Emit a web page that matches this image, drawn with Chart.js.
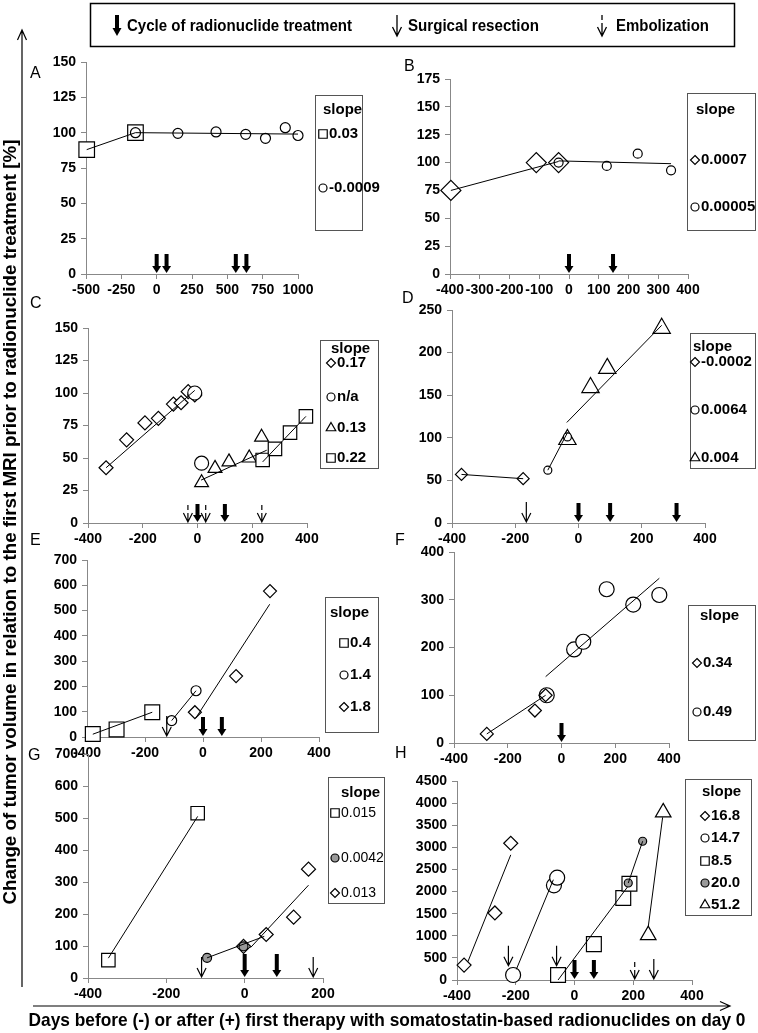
<!DOCTYPE html>
<html>
<head>
<meta charset="utf-8">
<title>Tumor volume change</title>
<script src="https://cdn.jsdelivr.net/npm/chart.js@4.4.1/dist/chart.umd.min.js"></script>
<style>
  html, body { margin: 0; padding: 0; background: #fff; }
  #page { position: relative; width: 758px; height: 1033px; overflow: hidden; }
  #page canvas { position: absolute; left: 0; top: 0; }
  #deco { position: absolute; left: 0; top: 0; }
</style>
</head>
<body>
<div id="page">
  <canvas id="chartA" width="758" height="1033"></canvas>
  <canvas id="chartB" width="758" height="1033"></canvas>
  <canvas id="chartC" width="758" height="1033"></canvas>
  <canvas id="chartD" width="758" height="1033"></canvas>
  <canvas id="chartE" width="758" height="1033"></canvas>
  <canvas id="chartF" width="758" height="1033"></canvas>
  <canvas id="chartG" width="758" height="1033"></canvas>
  <canvas id="chartH" width="758" height="1033"></canvas>
  <svg id="deco" width="758" height="1033" font-family="Arial, 'Liberation Sans', sans-serif">
    <!-- event key -->
    <rect x="90.5" y="3.5" width="644" height="43" fill="none" stroke="#000" stroke-width="1.5"/>
    <rect x="115" y="15" width="4" height="14"/>
    <polygon points="112.5,28 121.5,28 117,36"/>
    <text x="127" y="31" font-size="16" font-weight="bold" textLength="225" lengthAdjust="spacingAndGlyphs">Cycle of radionuclide treatment</text>
    <path d="M397 15 V36 M392.5 27 L397 36 L401.5 27" stroke="#000" stroke-width="1.3" fill="none"/>
    <text x="408" y="31" font-size="16" font-weight="bold" textLength="131" lengthAdjust="spacingAndGlyphs">Surgical resection</text>
    <path d="M602 15 V20 M602 23 V36 M597.5 27 L602 36 L606.5 27" stroke="#000" stroke-width="1.3" fill="none"/>
    <text x="616" y="31" font-size="16" font-weight="bold" textLength="93" lengthAdjust="spacingAndGlyphs">Embolization</text>
    <!-- axis arrows -->
    <path d="M22 987 V30 M17.5 40 L22 30 L26.5 40" stroke="#000" stroke-width="1.2" fill="none"/>
    <path d="M33 1006 H730 M720 1001.5 L730 1006 L720 1010.5" stroke="#000" stroke-width="1.2" fill="none"/>
    <text transform="translate(16,522) rotate(-90)" text-anchor="middle" font-size="18" font-weight="bold" textLength="765" lengthAdjust="spacingAndGlyphs">Change of tumor volume in relation to the first MRI prior to radionuclide treatment [%]</text>
    <text x="387" y="1026" text-anchor="middle" font-size="19" font-weight="bold" textLength="717" lengthAdjust="spacingAndGlyphs">Days before (-) or after (+) first therapy with somatostatin-based radionuclides on day 0</text>
    <!-- panel letters -->
    <g font-size="16">
      <text x="30" y="78">A</text>
      <text x="404" y="71">B</text>
      <text x="30" y="308">C</text>
      <text x="402" y="303">D</text>
      <text x="30" y="545">E</text>
      <text x="395" y="545">F</text>
      <text x="28" y="760">G</text>
      <text x="395" y="758">H</text>
    </g>
  </svg>
</div>
<script>
const FONT = 'Arial, "Liberation Sans", sans-serif';

// panel A
const aSquares = [[-495, 88], [-150, 100]];
const aCircles = [[-150, 100], [150, 99.5], [420, 100.5], [630, 98.8], [770, 96], [910, 103.5], [1000, 98]];
const aSquareTrend = [[-495, 88], [-150, 100]];
const aCircleTrend = [[-150, 100], [1000, 99]];
const aCycles = [0, 70, 560, 635];
const aSlopes = ['0.03', '-0.0009'];

// panel B
const bDiamonds = [[-397, 75], [-110, 100], [-35, 100]];
const bCircles = [[-35, 100], [127, 97], [231, 108], [343, 93]];
const bDiamondTrend = [[-397, 75], [-35, 101]];
const bCircleTrend = [[-35, 101.5], [343, 99]];
const bCycles = [0, 148];
const bSlopes = ['0.0007', '0.00005'];

// panel C
const cDiamonds = [[-334, 42.5], [-259, 64], [-192, 77], [-143, 80.5], [-88, 91.5], [-60, 92.5], [-34, 101], [-10, 98.5]];
const cCircles = [[-10, 100], [15, 46]];
const cTriangles = [[15, 31], [64, 42], [115, 47], [189, 50], [234, 66]];
const cSquares = [[238, 48.5], [283, 57], [338, 69.5], [396, 82]];
const cDiamondTrend = [[-334, 42.5], [-10, 102]];
const cTriangleTrend = [[13, 33], [253, 56]];
const cSquareTrend = [[238, 47], [396, 82]];
const cCycles = [0, 100];
const cEmbol = [-35, 30, 235];
const cSlopes = ['0.17', 'n/a', '0.13', '0.22'];

// panel D
const dDiamonds = [[-370, 57], [-175, 52]];
const dCircles = [[-97, 62], [-35, 101]];
const dTriangles = [[-35, 98], [38, 159], [91, 181.5], [263, 228.5]];
const dDiamondTrend = [[-370, 57], [-175, 52]];
const dCircleTrend = [[-97, 62], [-35, 106]];
const dTriangleTrend = [[-37, 118], [263, 232]];
const dCycles = [0, 100, 310];
const dSurgery = [-165];
const dSlopes = ['-0.0002', '0.0064', '0.004'];

// panel E
const eSquares = [[-380, 12], [-298, 30], [-175, 98]];
const eCircles = [[-108, 65], [-24, 183]];
const eDiamonds = [[-28, 98], [114, 241], [231, 577]];
const eSquareTrend = [[-380, 11], [-175, 98]];
const eCircleTrend = [[-108, 65], [-24, 183]];
const eDiamondTrend = [[-25, 75], [230, 525]];
const eCycles = [0, 65];
const eSurgery = [-125];
const eSlopes = ['0.4', '1.4', '1.8'];

// panel F
const fDiamonds = [[-278, 19], [-99, 68], [-59, 100]];
const fCircles = [[-55, 100], [47, 196], [81, 212], [168, 322], [267, 290], [364, 310]];
const fDiamondTrend = [[-278, 19], [-59, 100]];
const fCircleTrend = [[-59, 139], [364, 345]];
const fCycles = [0];
const fSlopes = ['0.34', '0.49'];

// panel G
const gSquares = [[-348, 56], [-120, 515]];
const gGray = [[-96, 63], [-3, 99]];
const gDiamonds = [[-3, 99], [55, 136], [125, 190], [163, 340]];
const gSquareTrend = [[-348, 62], [-120, 505]];
const gGrayTrend = [[-96, 63], [50, 130]];
const gDiamondTrend = [[15, 95], [163, 290]];
const gCycles = [0, 82];
const gSurgery = [-110, 175];
const gSlopes = ['0.015', '0.0042', '0.013'];

// panel H
const hDiamonds = [[-376, 338], [-271, 1516], [-217, 3092]];
const hCircles = [[-209, 113], [-70, 2140], [-59, 2313]];
const hSquares = [[-56, 113], [66, 811], [166, 1854], [187, 2177]];
const hGray = [[183, 2193], [232, 3138]];
const hTriangles = [[251, 1014], [302, 3791]];
const hDiamondTrend = [[-363, 413], [-217, 2830]];
const hCircleTrend = [[-198, 240], [-72, 2268]];
const hSquareTrend = [[-56, 0], [180, 2100]];
const hGrayTrend = [[183, 2193], [232, 3138]];
const hTriangleTrend = [[251, 1200], [300, 3678]];
const hCycles = [0, 66];
const hEmbol = [205];
const hSurgery = [[-225, 300], [-61, 300], 270];
const hSlopes = ['16.8', '14.7', '8.5', '20.0', '51.2'];

const SQ = 'rect', CI = 'circle', DI = 'rectRot', TR = 'triangle', GR = 'gray';
const LEGEND_R = { rect: 6, circle: 4, rectRot: 4.5, triangle: 5.5, gray: 4 };

function markerPath(ctx, style, x, y, r) {
  ctx.beginPath();
  if (style === 'circle' || style === 'gray') {
    ctx.arc(x, y, r, 0, Math.PI * 2);
  } else if (style === 'rect') {
    const s = r * Math.SQRT1_2;
    ctx.rect(x - s, y - s, 2 * s, 2 * s);
  } else if (style === 'rectRot') {
    ctx.moveTo(x, y - r); ctx.lineTo(x + r, y); ctx.lineTo(x, y + r); ctx.lineTo(x - r, y);
    ctx.closePath();
  } else {
    ctx.moveTo(x, y - r); ctx.lineTo(x + r * 0.866, y + r / 2); ctx.lineTo(x - r * 0.866, y + r / 2);
    ctx.closePath();
  }
}

// treatment / resection / embolization arrows, placed on the x scale
const eventArrows = {
  id: 'eventArrows',
  afterDatasetsDraw(chart, args, o) {
    const { ctx, scales: { x, y } } = chart;
    const where = v => Array.isArray(v)
      ? [x.getPixelForValue(v[0]), y.getPixelForValue(v[1]) - 1]
      : [x.getPixelForValue(v), y.getPixelForValue(0) - 1];
    const len = o.len || 19;
    ctx.save();
    ctx.fillStyle = '#000';
    ctx.strokeStyle = '#000';
    ctx.lineWidth = 1.2;
    (o.cycles || []).forEach(v => {
      const [px, tip] = where(v);
      ctx.fillRect(px - 2, tip - len, 4, len - 6);
      ctx.beginPath();
      ctx.moveTo(px - 4.5, tip - 7); ctx.lineTo(px + 4.5, tip - 7); ctx.lineTo(px, tip);
      ctx.closePath();
      ctx.fill();
    });
    (o.surgery || []).forEach(v => {
      const [px, tip] = where(v);
      ctx.beginPath();
      ctx.moveTo(px, tip - 20); ctx.lineTo(px, tip);
      ctx.moveTo(px - 4.5, tip - 9); ctx.lineTo(px, tip); ctx.lineTo(px + 4.5, tip - 9);
      ctx.stroke();
    });
    (o.embol || []).forEach(v => {
      const [px, tip] = where(v);
      ctx.beginPath();
      ctx.moveTo(px, tip - 17); ctx.lineTo(px, tip - 12);
      ctx.moveTo(px, tip - 9); ctx.lineTo(px, tip);
      ctx.moveTo(px - 4.5, tip - 9); ctx.lineTo(px, tip); ctx.lineTo(px + 4.5, tip - 9);
      ctx.stroke();
    });
    ctx.restore();
  }
};

// boxed "slope" key for each panel
const slopeBox = {
  id: 'slopeBox',
  afterDraw(chart, args, o) {
    if (!o.box) return;
    const ctx = chart.ctx;
    const [l, t, r, b] = o.box;
    ctx.save();
    ctx.strokeStyle = '#555';
    ctx.lineWidth = 1;
    ctx.strokeRect(l + 0.5, t + 0.5, r - l, b - t);
    ctx.fillStyle = '#000';
    ctx.textBaseline = 'middle';
    ctx.textAlign = 'left';
    ctx.font = 'bold 15px ' + FONT;
    ctx.fillText('slope', o.title[0], o.title[1]);
    ctx.font = o.font || ('bold 15px ' + FONT);
    o.rows.forEach((row, i) => {
      markerPath(ctx, row.style, o.markerX, row.y, LEGEND_R[row.style]);
      ctx.fillStyle = row.style === GR ? '#9a9a9a' : '#fff';
      ctx.fill();
      ctx.lineWidth = 1.2;
      ctx.strokeStyle = '#000';
      ctx.stroke();
      ctx.fillStyle = '#000';
      ctx.fillText(o.labels[i], o.textX, row.y);
    });
    ctx.restore();
  }
};

const YW = 45, XH = 30;

function axis(range, horizontal) {
  return {
    type: 'linear',
    min: range[0], max: range[1],
    ticks: {
      stepSize: range[2], autoSkip: false, maxRotation: 0, minRotation: 0,
      color: '#000', padding: horizontal ? 3 : 5,
      font: { family: FONT, size: 14, weight: 'bold' },
      callback: v => String(v)
    },
    grid: { drawOnChartArea: false, drawTicks: true, tickLength: 5, color: '#888' },
    border: { display: true, color: '#888', width: 1 },
    afterFit: s => { if (horizontal) s.height = XH; else s.width = YW; }
  };
}

function makePanel(id, o) {
  const datasets = o.series.map((s, i) => ({
    data: s.pts.map(([x, y]) => ({ x, y })),
    pointStyle: s.style === GR ? 'circle' : s.style,
    pointRadius: s.r,
    pointBackgroundColor: s.style === GR ? '#9a9a9a' : '#fff',
    pointBorderColor: '#000',
    pointBorderWidth: 1.2,
    showLine: false,
    clip: false,
    order: 100 - i
  }));
  o.trends.forEach(t => datasets.push({
    data: t.map(([x, y]) => ({ x, y })),
    showLine: true,
    borderColor: '#000',
    borderWidth: 1,
    pointRadius: 0,
    clip: false,
    order: 0
  }));
  const [l, t, r, b] = o.area;
  new Chart(document.getElementById(id), {
    type: 'scatter',
    data: { datasets },
    options: {
      responsive: false,
      animation: false,
      events: [],
      layout: { padding: { left: l - YW, top: t, right: 758 - r, bottom: 1033 - b - XH } },
      plugins: {
        legend: { display: false },
        tooltip: { enabled: false },
        eventArrows: o.arrows,
        slopeBox: o.legend
      },
      scales: { x: axis(o.x, true), y: axis(o.y, false) }
    },
    plugins: [eventArrows, slopeBox]
  });
}

makePanel('chartA', {
  area: [86, 62, 298, 274], x: [-500, 1000, 250], y: [0, 150, 25],
  series: [{ pts: aSquares, style: SQ, r: 11 }, { pts: aCircles, style: CI, r: 5 }],
  trends: [aSquareTrend, aCircleTrend],
  arrows: { cycles: aCycles },
  legend: { box: [315, 95, 362, 230], title: [323, 110], markerX: 323, textX: 329, labels: aSlopes,
    rows: [{ style: SQ, y: 134 }, { style: CI, y: 188 }] }
});

makePanel('chartB', {
  area: [450, 79, 688, 274], x: [-400, 400, 100], y: [0, 175, 25],
  series: [{ pts: bDiamonds, style: DI, r: 10 }, { pts: bCircles, style: CI, r: 4.5 }],
  trends: [bDiamondTrend, bCircleTrend],
  arrows: { cycles: bCycles },
  legend: { box: [687, 93, 755, 230], title: [696, 110], markerX: 695, textX: 701, labels: bSlopes,
    rows: [{ style: DI, y: 160 }, { style: CI, y: 207 }] }
});

makePanel('chartC', {
  area: [88, 328, 307, 523], x: [-400, 400, 200], y: [0, 150, 25],
  series: [{ pts: cDiamonds, style: DI, r: 7 }, { pts: cCircles, style: CI, r: 7 },
    { pts: cTriangles, style: TR, r: 8 }, { pts: cSquares, style: SQ, r: 9.5 }],
  trends: [cDiamondTrend, cTriangleTrend, cSquareTrend],
  arrows: { cycles: cCycles, embol: cEmbol, len: 18 },
  legend: { box: [320, 340, 378, 468], title: [331, 349], markerX: 331, textX: 337, labels: cSlopes,
    rows: [{ style: DI, y: 363 }, { style: CI, y: 397 }, { style: TR, y: 428 }, { style: SQ, y: 458 }] }
});

makePanel('chartD', {
  area: [452, 310, 705, 523], x: [-400, 400, 200], y: [0, 250, 50],
  series: [{ pts: dDiamonds, style: DI, r: 6 }, { pts: dTriangles, style: TR, r: 10 },
    { pts: dCircles, style: CI, r: 4 }],
  trends: [dDiamondTrend, dCircleTrend, dTriangleTrend],
  arrows: { cycles: dCycles, surgery: dSurgery },
  legend: { box: [690, 333, 755, 468], title: [693, 347], markerX: 695, textX: 701, labels: dSlopes,
    rows: [{ style: DI, y: 362 }, { style: CI, y: 410 }, { style: TR, y: 458 }] }
});

makePanel('chartE', {
  area: [87, 560, 319, 737], x: [-400, 400, 200], y: [0, 700, 100],
  series: [{ pts: eSquares, style: SQ, r: 10.5 }, { pts: eCircles, style: CI, r: 5 },
    { pts: eDiamonds, style: DI, r: 6.5 }],
  trends: [eSquareTrend, eCircleTrend, eDiamondTrend],
  arrows: { cycles: eCycles, surgery: eSurgery },
  legend: { box: [325, 597, 378, 732], title: [330, 613], markerX: 344, textX: 350, labels: eSlopes,
    rows: [{ style: SQ, y: 643 }, { style: CI, y: 675 }, { style: DI, y: 707 }] }
});

makePanel('chartF', {
  area: [454, 552, 669, 743], x: [-400, 400, 200], y: [0, 400, 100],
  series: [{ pts: fCircles, style: CI, r: 7.5 }, { pts: fDiamonds, style: DI, r: 6.5 }],
  trends: [fDiamondTrend, fCircleTrend],
  arrows: { cycles: fCycles },
  legend: { box: [688, 605, 755, 740], title: [700, 616], markerX: 697, textX: 703, labels: fSlopes,
    rows: [{ style: DI, y: 663 }, { style: CI, y: 712 }] }
});

makePanel('chartG', {
  area: [88, 754, 323, 978], x: [-400, 200, 200], y: [0, 700, 100],
  series: [{ pts: gSquares, style: SQ, r: 9.5 }, { pts: gDiamonds, style: DI, r: 7 },
    { pts: gGray, style: GR, r: 4.5 }],
  trends: [gSquareTrend, gGrayTrend, gDiamondTrend],
  arrows: { cycles: gCycles, surgery: gSurgery, len: 23 },
  legend: { box: [328, 777, 384, 903], title: [341, 793], markerX: 335, textX: 341, labels: gSlopes,
    font: '14px ' + FONT,
    rows: [{ style: SQ, y: 813 }, { style: GR, y: 858 }, { style: DI, y: 893 }] }
});

makePanel('chartH', {
  area: [457, 781, 692, 980], x: [-400, 400, 200], y: [0, 4500, 500],
  series: [{ pts: hDiamonds, style: DI, r: 7 }, { pts: hCircles, style: CI, r: 7.5 },
    { pts: hSquares, style: SQ, r: 10.5 }, { pts: hGray, style: GR, r: 4 },
    { pts: hTriangles, style: TR, r: 9 }],
  trends: [hDiamondTrend, hCircleTrend, hSquareTrend, hGrayTrend, hTriangleTrend],
  arrows: { cycles: hCycles, surgery: hSurgery, embol: hEmbol, len: 19 },
  legend: { box: [685, 779, 751, 915], title: [702, 792], markerX: 705, textX: 711, labels: hSlopes,
    rows: [{ style: DI, y: 816 }, { style: CI, y: 838 }, { style: SQ, y: 861 }, { style: GR, y: 883 }, { style: TR, y: 905 }] }
});
</script>
</body>
</html>
